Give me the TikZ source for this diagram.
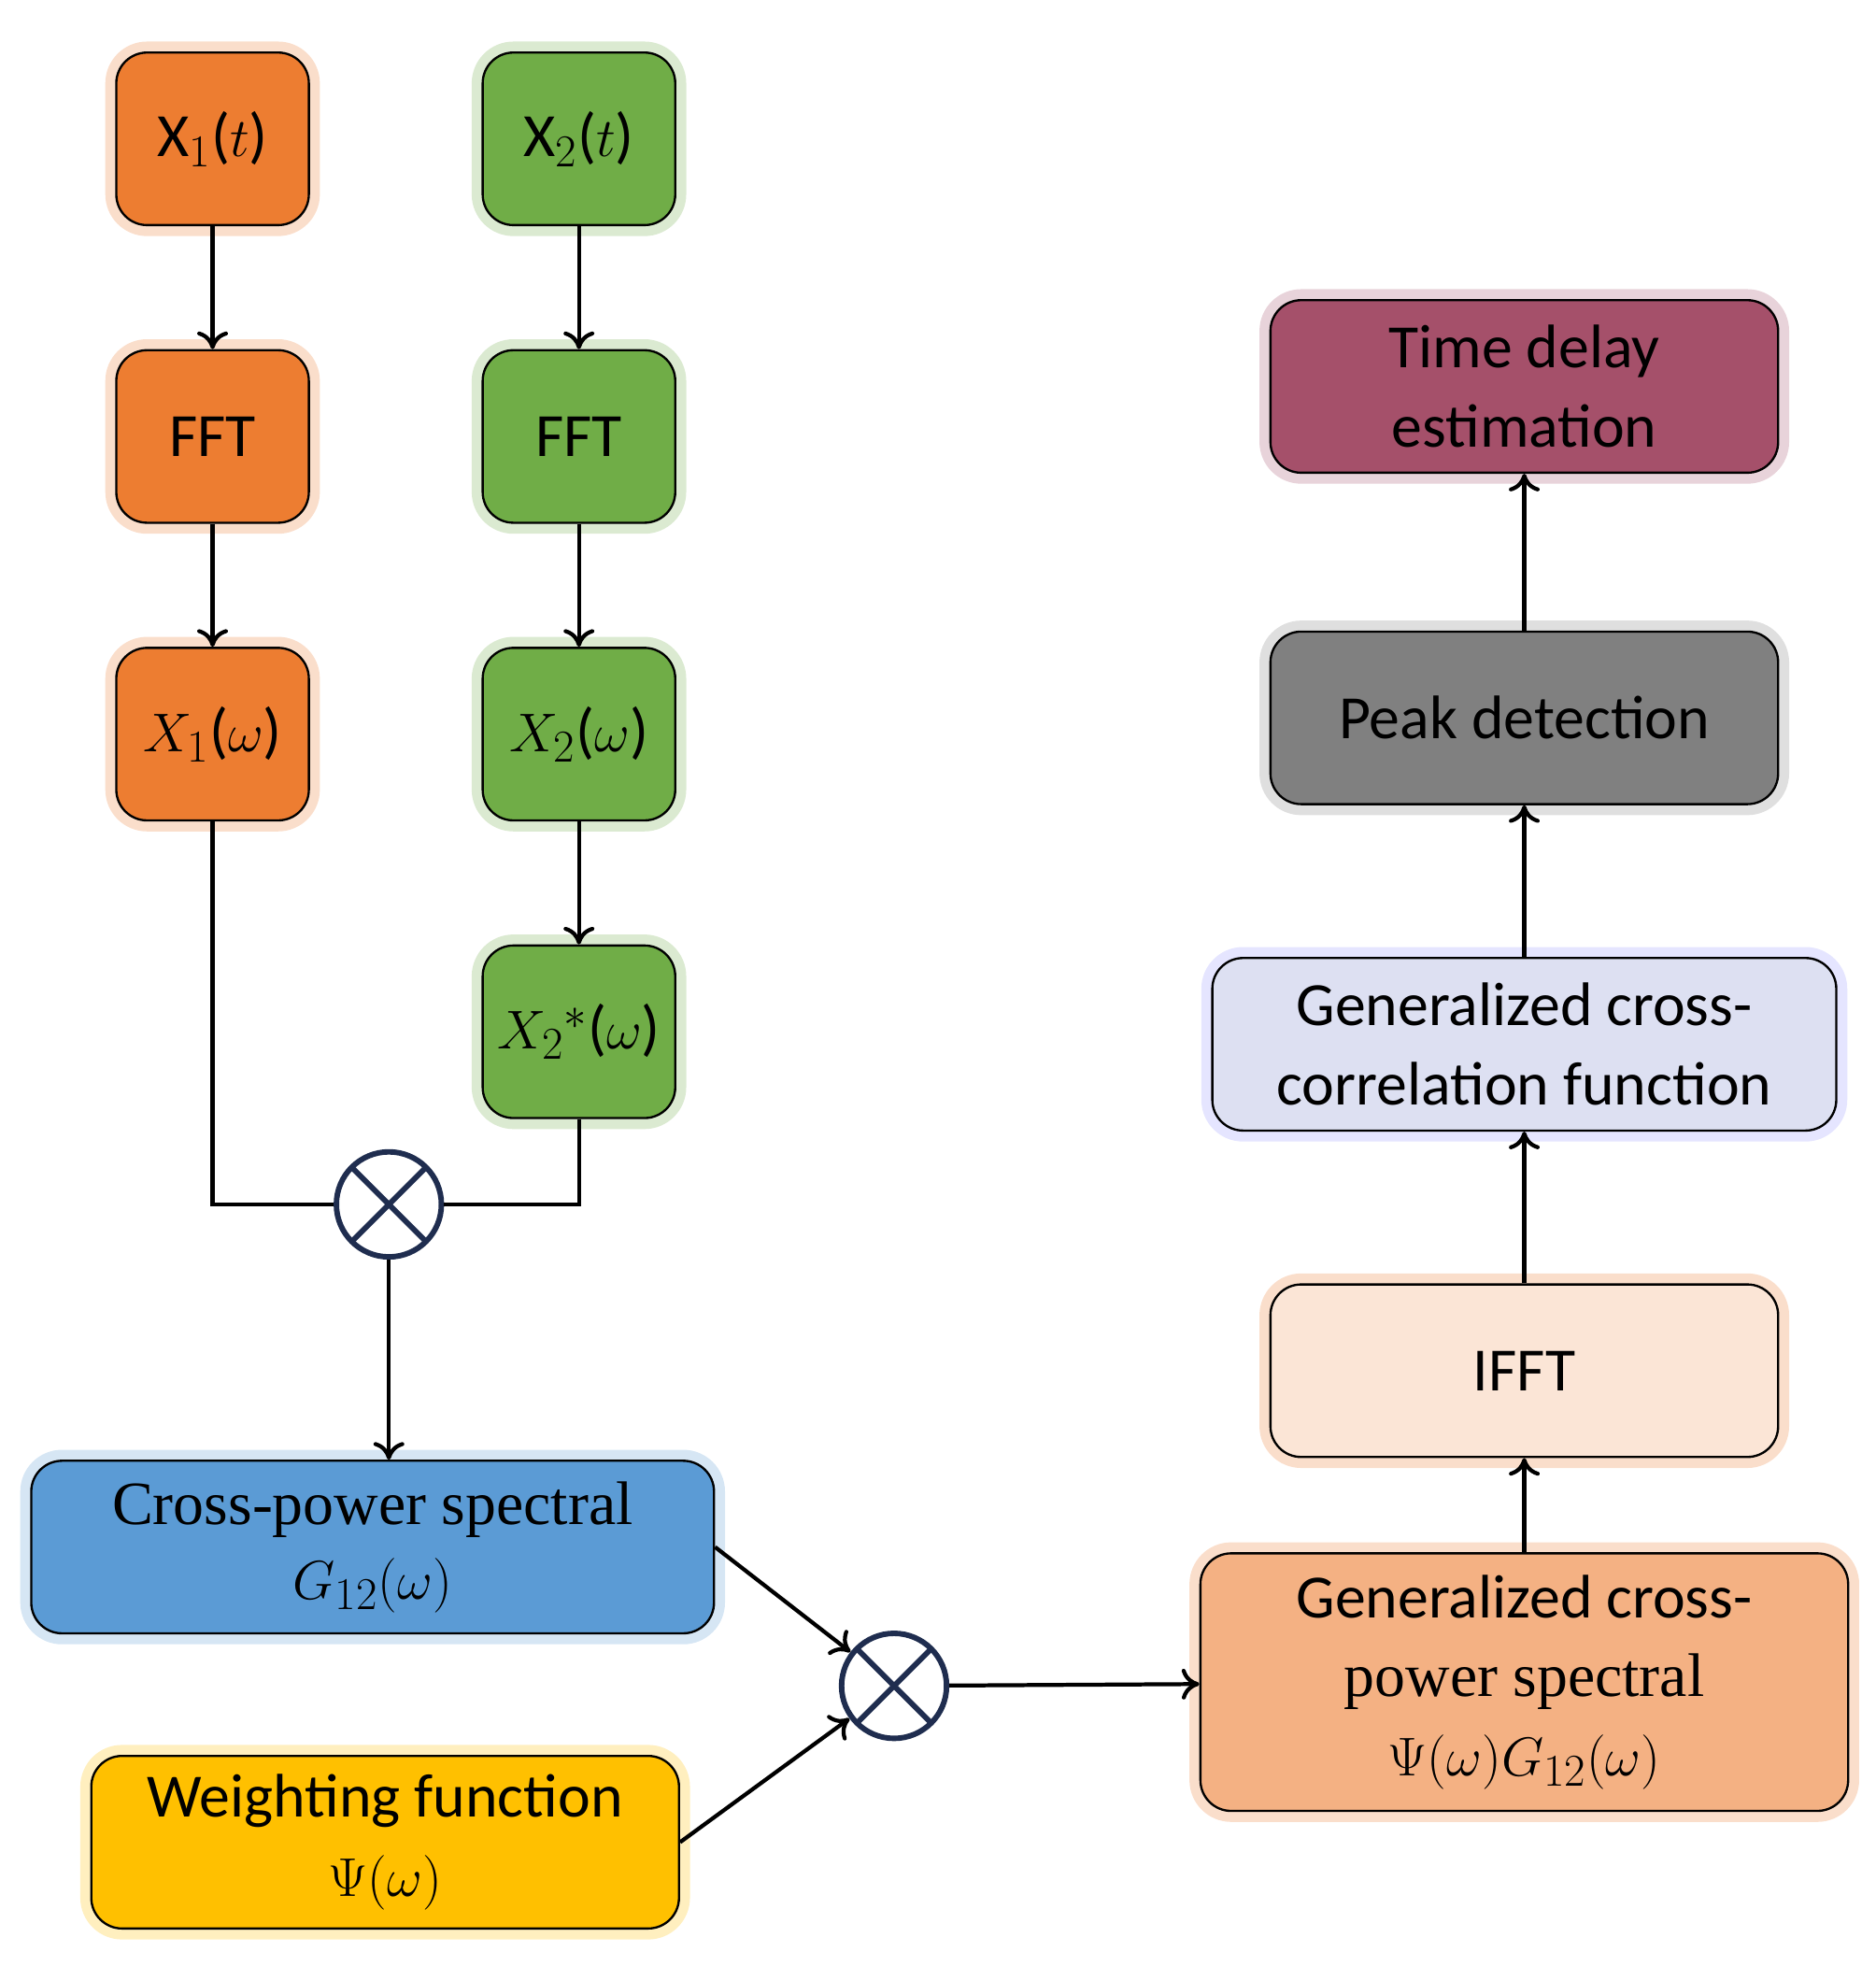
\documentclass[tikz,border=0pt]{standalone}
\usepackage{fontspec}
\setmainfont{Carlito}
\newfontfamily\serifx{Liberation Serif}
\usetikzlibrary{arrows.meta}
\definecolor{org}{HTML}{ED7D31}\definecolor{grn}{HTML}{70AD47}
\definecolor{blu}{HTML}{5B9BD5}\definecolor{yel}{HTML}{FFC000}
\definecolor{gcpsc}{HTML}{F4B183}\definecolor{ifftc}{HTML}{FBE5D6}
\definecolor{gccc}{HTML}{DDE0F2}\definecolor{tdc}{HTML}{A5506A}
\definecolor{mc}{HTML}{1F2D4F}
\begin{document}
\begin{tikzpicture}[x=0.02cm,y=-0.02cm,
 box/.style={draw=black,line width=1pt,rounded corners=14pt,minimum width=#1*0.02cm,minimum height=2.76cm,inner sep=0pt,align=center,font=\fontsize{28}{36}\selectfont},
 glow/.style={preaction={draw=#1,line width=10pt,opacity=0.25}},
 arr/.style={line width=1.8pt,-{To[length=8pt,width=14pt,line width=1.8pt]}},
 ln/.style={line width=1.8pt},
 mult/.style={circle,draw=mc,line width=2.5pt,minimum size=1.68cm,inner sep=0pt,path picture={\draw[line width=2.5pt,mc] (path picture bounding box.north west)--(path picture bounding box.south east) (path picture bounding box.north east)--(path picture bounding box.south west);}}]
\useasboundingbox (0,0) rectangle (1500,1572);
\node[box=154,fill=org,glow=org] (x1t) at (170,111) {X$_1$($t$)};
\node[box=154,fill=grn,glow=grn] (x2t) at (463,111) {X$_2$($t$)};
\node[box=154,fill=org,glow=org] (f1) at (170,349) {FFT};
\node[box=154,fill=grn,glow=grn] (f2) at (463,349) {FFT};
\node[box=154,fill=org,glow=org] (x1w) at (170,587) {$X_1$($\omega$)};
\node[box=154,fill=grn,glow=grn] (x2w) at (463,587) {$X_2$($\omega$)};
\node[box=154,fill=grn,glow=grn] (x2s) at (463,825) {$X_2{}^{*}$($\omega$)};
\node[mult] (m1) at (311,963) {};
\node[box=546,fill=blu,glow=blu,font=\serifx\fontsize{28}{34}\selectfont] (cp) at (298,1237) {Cross-power spectral\\$G_{12}(\omega)$};
\node[box=470,fill=yel,glow=yel] (wf) at (308,1473) {Weighting function\\$\Psi(\omega)$};
\node[mult] (m2) at (715,1348) {};
\node[box=518,minimum height=4.12cm,fill=gcpsc,glow=org] (gcps) at (1219,1345) {Generalized cross-\\{\serifx power spectral}\\$\Psi(\omega)G_{12}(\omega)$};
\node[box=406,fill=ifftc,glow=org] (ifft) at (1219,1096) {IFFT};
\node[box=499,fill=gccc,glow=blue!40] (gcc) at (1219,835) {Generalized cross-\\correlation function};
\node[box=406,fill=gray,glow=gray] (pk) at (1219,574) {Peak detection};
\node[box=406,fill=tdc,glow=tdc] (td) at (1219,309) {Time delay\\estimation};
\draw[arr] (x1t)--(f1); \draw[arr] (f1)--(x1w);
\draw[arr] (x2t)--(f2); \draw[arr] (f2)--(x2w); \draw[arr] (x2w)--(x2s);
\draw[ln] (x1w.south) |- (m1.west);
\draw[ln] (x2s.south) |- (m1.east);
\draw[arr] (m1)--(cp.north-|m1);
\draw[arr] (cp.east)--(m2);
\draw[arr] (wf.east)--(m2);
\draw[arr] (m2)--(gcps);
\draw[arr] (gcps)--(ifft); \draw[arr] (ifft)--(gcc); \draw[arr] (gcc)--(pk); \draw[arr] (pk)--(td);
\end{tikzpicture}
\end{document}
